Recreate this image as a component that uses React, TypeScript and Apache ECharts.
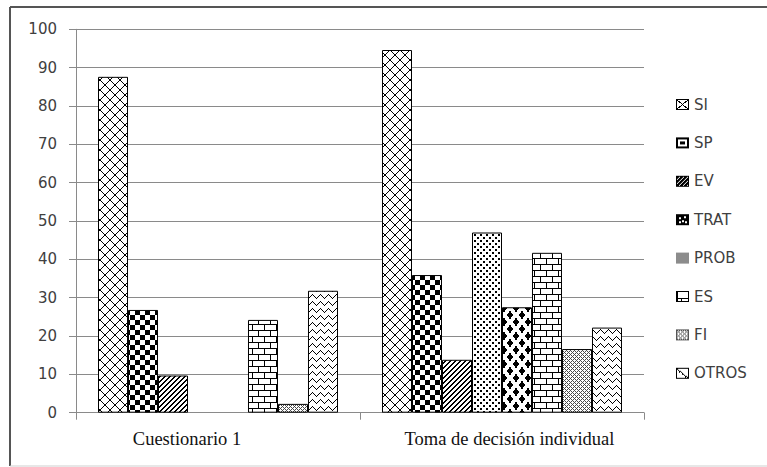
import React, { useEffect, useRef } from "react";
import * as echarts from "echarts";

// Categories and series (percentages)
const categories = ["Cuestionario 1", "Toma de decisión individual"];
const seriesNames = ["SI", "SP", "EV", "TRAT", "PROB", "ES", "FI", "OTROS"];
const siValues = [87.6, 94.6];
const spValues = [26.8, 35.9];
const evValues = [9.7, 13.8];
const tratValues = [0, 47.0];
const probValues = [0, 27.5];
const esValues = [24.2, 41.7];
const fiValues = [2.3, 16.6];
const otrosValues = [31.8, 22.2];
const yMin = 0;
const yMax = 100;
const yStep = 10;

// Per-category label shift (px) for the category axis
const labelPadding: number[][] = [
  [0, 62, 0, 0],
  [0, 0, 0, 15],
];

type Pix = (x: number, y: number) => boolean;

function makeTile(w: number, h: number, on: Pix, ink = "#000", paper = "#fff") {
  const c = document.createElement("canvas");
  c.width = w;
  c.height = h;
  const ctx = c.getContext("2d")!;
  ctx.fillStyle = paper;
  ctx.fillRect(0, 0, w, h);
  ctx.fillStyle = ink;
  for (let y = 0; y < h; y++) {
    for (let x = 0; x < w; x++) {
      if (on(x, y)) ctx.fillRect(x, y, 1, 1);
    }
  }
  return c;
}

function fillPattern(w: number, h: number, on: Pix, ink = "#000") {
  const c = makeTile(w, h, on, ink);
  return { image: c, imageWidth: w, imageHeight: h, repeat: "repeat" as const };
}

// Hatch patterns, one per series
const crossHatch: Pix = (x, y) => x === y || x === 9 - y;
const checker: Pix = (x, y) => (x < 5) !== (y < 5);
const upDiagonal: Pix = (x, y) => (x + y) % 5 < 2;
const dots: Pix = (x, y) => (x < 2 && y < 2) || (x >= 3 && x < 5 && y >= 3 && y < 5);
const diamonds: Pix = (x, y) => {
  const px = x + 0.5;
  const py = y + 0.5;
  const centers = [
    [6, 7],
    [0, 0],
    [12, 0],
    [0, 14],
    [12, 14],
  ];
  return centers.some(([cx, cy]) => Math.abs(px - cx) / 3.6 + Math.abs(py - cy) / 4.2 <= 1);
};
const bricks: Pix = (x, y) => y % 6 === 0 || (y < 6 ? x === 0 : x === 6);
const fineMesh: Pix = (x, y) => (x + y) % 4 === 0 || (x - y + 4) % 4 === 0;
const zigzag: Pix = (x, y) => {
  const t = x < 4 ? x : 8 - x;
  return y === t;
};

const barPatterns = [
  { w: 10, h: 10, on: crossHatch, ink: "#000" },
  { w: 10, h: 10, on: checker, ink: "#000" },
  { w: 5, h: 5, on: upDiagonal, ink: "#000" },
  { w: 6, h: 6, on: dots, ink: "#000" },
  { w: 12, h: 14, on: diamonds, ink: "#000" },
  { w: 12, h: 12, on: bricks, ink: "#000" },
  { w: 4, h: 4, on: fineMesh, ink: "#4a4a4a" },
  { w: 8, h: 7, on: zigzag, ink: "#000" },
];

// Small swatches used as legend keys
const IW = 13;
const IH = 11;
const border = (x: number, y: number) => x === 0 || y === 0 || x === IW - 1 || y === IH - 1;
const legendKeys: Pix[] = [
  (x, y) => border(x, y) || Math.abs(x * (IH - 1) - y * (IW - 1)) < 7 || Math.abs(x * (IH - 1) - (IH - 1 - y) * (IW - 1)) < 7,
  (x, y) => border(x, y) || x === 1 || y === 1 || x === IW - 2 || y === IH - 2 || (x >= 4 && x <= 8 && y >= 4 && y <= 6),
  (x, y) => border(x, y) || (x + y) % 4 !== 0,
  (x, y) => {
    if (border(x, y)) return true;
    const spots = [
      [3, 3],
      [8, 2],
      [6, 6],
      [3, 7],
      [9, 7],
    ];
    return !spots.some(([sx, sy]) => (x === sx || x === sx + 1) && (y === sy || y === sy + 1));
  },
  () => false,
  (x, y) => border(x, y) || x === 1 || y === 7 || (x === 5 && y > 7),
  (x, y) => border(x, y) || fineMesh(x, y),
  (x, y) => {
    if (border(x, y)) return true;
    const d = y - Math.round((x * (IH - 1)) / (IW - 1));
    return d === 0 || (d === 1 && x % 3 === 0);
  },
];

function legendIcon(i: number) {
  if (seriesNames[i] === "PROB") {
    return "image://" + makeTile(IW, IH, () => true, "#8c8c8c").toDataURL();
  }
  const ink = seriesNames[i] === "FI" ? "#555" : "#000";
  return "image://" + makeTile(IW, IH, legendKeys[i], ink).toDataURL();
}

const AXIS_GREY = "#8a8a8a";
const TEXT_GREY = "#404040";

export default function App() {
  const ref = useRef<HTMLDivElement>(null);

  useEffect(() => {
    if (!ref.current) return;
    const chart = echarts.init(ref.current, undefined, { renderer: "svg" });
    const valueSets = [siValues, spValues, evValues, tratValues, probValues, esValues, fiValues, otrosValues];

    const series = seriesNames.map((name, i) => ({
      name,
      type: "bar" as const,
      barGap: "0%",
      barCategoryGap: "15.5%",
      data: valueSets[i].map((v) => (v === 0 ? "-" : v)),
      itemStyle: {
        color: fillPattern(barPatterns[i].w, barPatterns[i].h, barPatterns[i].on, barPatterns[i].ink),
        borderColor: "#000",
        borderWidth: 1,
      },
      emphasis: { disabled: true },
    }));

    chart.setOption({
      animation: false,
      backgroundColor: "#fff",
      grid: { left: 76, right: 123, top: 29.3, bottom: 54.3, containLabel: false },
      legend: {
        orient: "vertical",
        left: 676,
        top: 97,
        padding: 0,
        itemWidth: IW,
        itemHeight: IH,
        itemGap: 23.4,
        selectedMode: false,
        data: seriesNames.map((name, i) => ({ name, icon: legendIcon(i) })),
        textStyle: { fontFamily: "DejaVu Sans", fontSize: 15, color: TEXT_GREY, padding: [0, 0, 0, 0] },
      },
      xAxis: {
        type: "category",
        data: categories.map((c, i) => ({ value: c, textStyle: { padding: labelPadding[i] } })),
        axisLine: { show: true, lineStyle: { color: AXIS_GREY, width: 1 } },
        axisTick: { show: true, length: 7, lineStyle: { color: AXIS_GREY } },
        axisLabel: {
          margin: 17,
          fontFamily: "Liberation Serif",
          fontSize: 18.5,
          color: "#111",
        },
        splitLine: { show: false },
      },
      yAxis: {
        type: "value",
        min: yMin,
        max: yMax,
        interval: yStep,
        axisLine: { show: true, lineStyle: { color: AXIS_GREY, width: 1 } },
        axisTick: { show: true, length: 7, lineStyle: { color: AXIS_GREY } },
        axisLabel: { margin: 19, fontFamily: "DejaVu Sans", fontSize: 15, color: TEXT_GREY },
        splitLine: { show: true, lineStyle: { color: AXIS_GREY, width: 1 } },
      },
      graphic: [
        { type: "line", silent: true, shape: { x1: 10, y1: 7, x2: 767, y2: 7 }, style: { stroke: "#555", lineWidth: 2 } },
        { type: "line", silent: true, shape: { x1: 10, y1: 7, x2: 10, y2: 466 }, style: { stroke: "#555", lineWidth: 2 } },
        { type: "line", silent: true, shape: { x1: 10, y1: 466, x2: 767, y2: 466 }, style: { stroke: "#cfcfcf", lineWidth: 1 } },
      ],
      series,
    });

    return () => chart.dispose();
  }, []);

  return (
    <div style={{ position: "fixed", left: 0, top: 0, width: 767, height: 467, background: "#fff" }}>
      <div ref={ref} style={{ width: 767, height: 467 }} />
    </div>
  );
}
